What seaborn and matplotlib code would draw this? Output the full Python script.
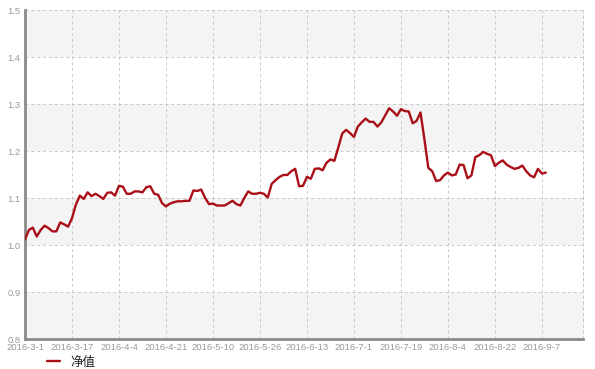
import numpy as np
import pandas as pd
import matplotlib
matplotlib.use("Agg")
import matplotlib.pyplot as plt
import seaborn as sns

# ---- data ----
series_name = "净值"
nav_values = [
    1.012, 1.032, 1.037, 1.018, 1.032, 1.041, 1.036, 1.029, 1.029, 1.048,
    1.044, 1.039, 1.057, 1.086, 1.105, 1.098, 1.112, 1.104, 1.109, 1.104,
    1.098, 1.111, 1.112, 1.105, 1.126, 1.124, 1.109, 1.109, 1.114, 1.114,
    1.112, 1.123, 1.125, 1.109, 1.107, 1.089, 1.082, 1.088, 1.091, 1.093,
    1.093, 1.094, 1.094, 1.116, 1.115, 1.118, 1.100, 1.087, 1.088, 1.084,
    1.084, 1.084, 1.089, 1.094, 1.087, 1.084, 1.100, 1.114, 1.109, 1.109,
    1.111, 1.109, 1.101, 1.130, 1.138, 1.145, 1.149, 1.149, 1.157, 1.162,
    1.125,
    1.126, 1.145, 1.141, 1.162, 1.163, 1.159, 1.175, 1.182, 1.179, 1.207,
    1.237, 1.245, 1.238, 1.230, 1.252, 1.261, 1.269, 1.262, 1.262, 1.252,
    1.261, 1.276, 1.291, 1.284, 1.275, 1.289, 1.285, 1.284, 1.259, 1.264,
    1.282, 1.225, 1.164, 1.157, 1.136, 1.138, 1.148, 1.154, 1.148, 1.150,
    1.171, 1.170, 1.142, 1.148, 1.187, 1.191, 1.198, 1.194, 1.191, 1.168,
    1.175, 1.180, 1.171, 1.166, 1.162, 1.164, 1.169, 1.157, 1.148, 1.144,
    1.162, 1.152, 1.154,
]
x_tick_labels = ["2016-3-1", "2016-3-17", "2016-4-4", "2016-4-21", "2016-5-10",
                 "2016-5-26", "2016-6-13", "2016-7-1", "2016-7-19", "2016-8-4",
                 "2016-8-22", "2016-9-7"]
tick_step = 12
y_ticks = [0.8, 0.9, 1.0, 1.1, 1.2, 1.3, 1.4, 1.5]

df = pd.DataFrame({"idx": np.arange(len(nav_values)), "nav": nav_values})

sns.set_style("white")
plt.rcParams["font.family"] = ["Liberation Sans", "Noto Sans CJK SC", "DejaVu Sans"]

fig = plt.figure(figsize=(5.95, 3.69), dpi=100)
ax = fig.add_axes([25 / 595, 30 / 369, (583 - 25) / 595, (339 - 10) / 369])

# alternating bands
for i in range(len(y_ticks) - 1):
    if i % 2 == 0:
        ax.axhspan(y_ticks[i], y_ticks[i + 1], color="#f4f4f4", zorder=0, lw=0)

sns.lineplot(data=df, x="idx", y="nav", ax=ax, color="#aa0f18", lw=1.7,
             label=series_name, zorder=3)

ax.set_xlim(0, 142.5)
ax.set_ylim(0.8, 1.5)
ax.set_yticks(y_ticks)
ax.set_yticklabels([f"{v:.1f}" for v in y_ticks])
xt = [i * tick_step for i in range(len(x_tick_labels))]
ax.set_xticks(xt)
ax.set_xticklabels(x_tick_labels)
ax.set_xlabel("")
ax.set_ylabel("")

ax.grid(True, linestyle=(0, (3, 3)), color="#c8c8c8", lw=0.7, zorder=1)
ax.set_axisbelow(True)
ax.tick_params(axis="both", length=0, labelsize=6.8, colors="#9a9a9a")
ax.tick_params(axis="x", pad=3)
ax.tick_params(axis="y", pad=3)

for s in ["left", "bottom"]:
    ax.spines[s].set_visible(True)
    ax.spines[s].set_color("#8a8a8a")
    ax.spines[s].set_linewidth(2.0)
ax.spines["top"].set_visible(False)
ax.spines["right"].set_visible(True)
ax.spines["right"].set_color("#c8c8c8")
ax.spines["right"].set_linestyle((0, (3, 3)))
ax.spines["right"].set_linewidth(0.7)

leg = ax.legend(loc="lower left", bbox_to_anchor=(0.06, -0.03),
                bbox_transform=fig.transFigure, frameon=False, fontsize=9,
                handlelength=1.05, handletextpad=0.8)
for t in leg.get_texts():
    t.set_color("#222222")

fig.savefig("out.png", dpi=100)
